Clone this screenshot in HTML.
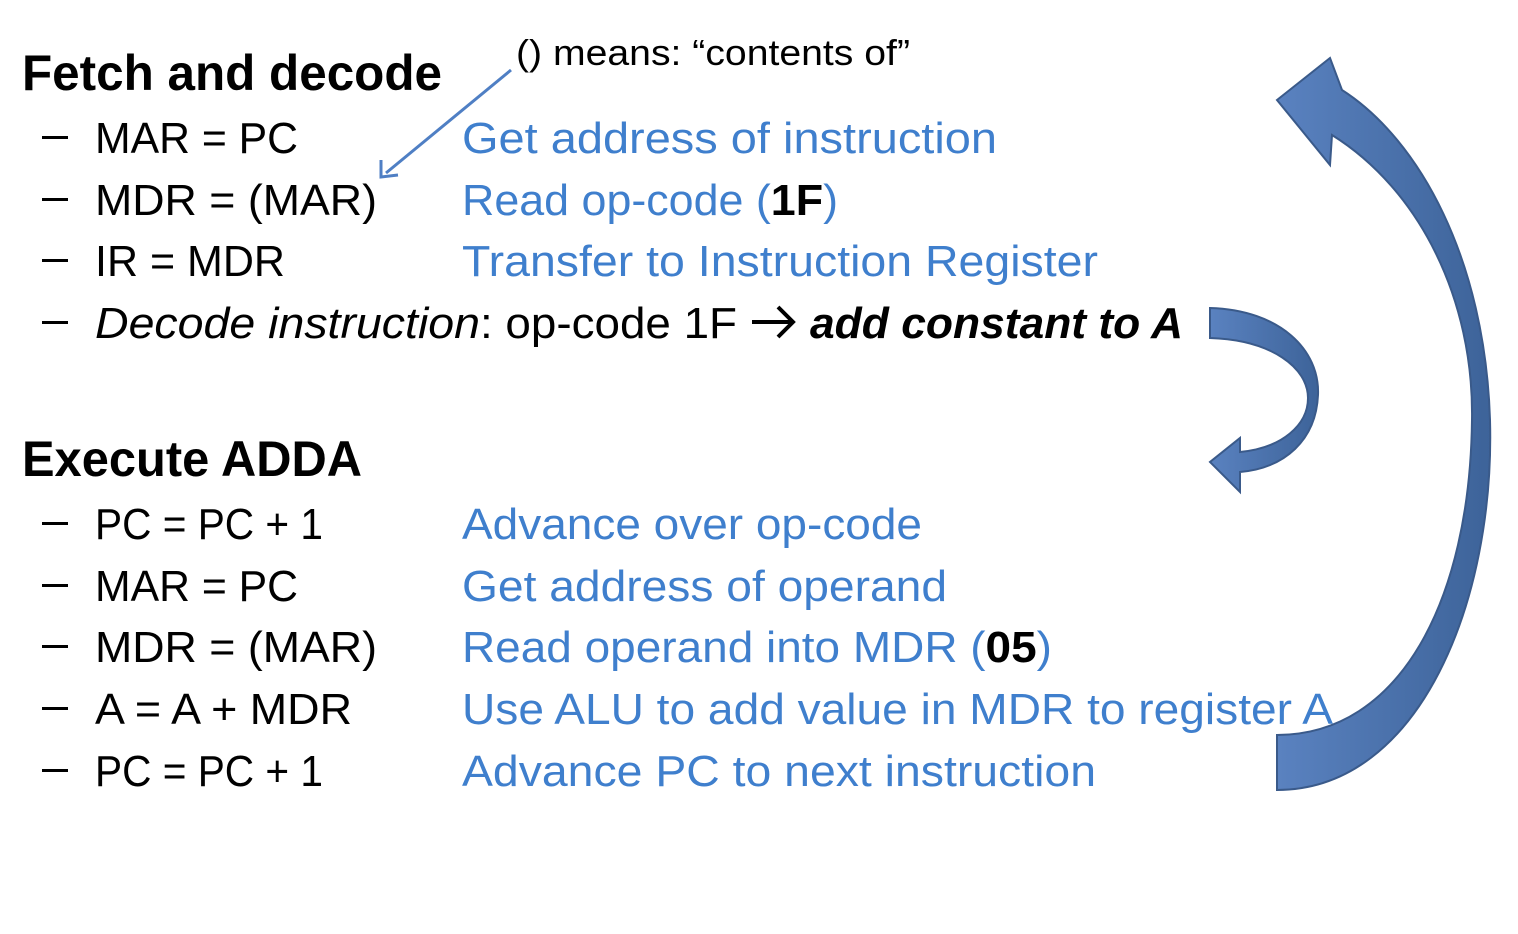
<!DOCTYPE html>
<html><head><meta charset="utf-8"><style>
html,body{margin:0;padding:0;background:#fff;}
svg{display:block;}
text{font-family:"Liberation Sans",sans-serif;}
.k{fill:#000;font-size:44px;}
.b{fill:#3f7fcd;font-size:44px;}
.h{fill:#000;font-size:50px;font-weight:bold;}
</style></head><body>
<svg width="1518" height="934" viewBox="0 0 1518 934">
<defs>
<linearGradient id="g" x1="0" y1="0" x2="1" y2="0">
<stop offset="0" stop-color="#5a82c0"/><stop offset="1" stop-color="#3d6399"/>
</linearGradient>
</defs>
<text class="h" x="22" y="90" textLength="420" lengthAdjust="spacingAndGlyphs">Fetch and decode</text>
<text x="516" y="65" style="font-size:36px" textLength="394" lengthAdjust="spacingAndGlyphs">() means: “contents of”</text>
<g stroke="#4f7fc4" stroke-width="3" fill="none">
<line x1="511" y1="70" x2="386" y2="173"/>
<polyline points="381,160 381,177 398,175"/>
</g>
<g fill="#000">
<rect x="42" y="136" width="26" height="3"/><rect x="42" y="198" width="26" height="3"/><rect x="42" y="259" width="26" height="3"/><rect x="42" y="321" width="26" height="3"/>
<rect x="42" y="522" width="26" height="3"/><rect x="42" y="584" width="26" height="3"/><rect x="42" y="645" width="26" height="3"/><rect x="42" y="707" width="26" height="3"/><rect x="42" y="769" width="26" height="3"/>
</g>
<text class="k" x="95" y="153" textLength="203" lengthAdjust="spacingAndGlyphs">MAR = PC</text>
<text class="k" x="95" y="215" textLength="282" lengthAdjust="spacingAndGlyphs">MDR = (MAR)</text>
<text class="k" x="95" y="276" textLength="190" lengthAdjust="spacingAndGlyphs">IR = MDR</text>
<text class="k" x="95" y="338" textLength="385" lengthAdjust="spacingAndGlyphs" font-style="italic">Decode instruction</text>
<text class="k" x="480" y="338" textLength="257" lengthAdjust="spacingAndGlyphs">: op-code 1F</text>
<g stroke="#000" stroke-width="4" fill="none"><line x1="752" y1="322" x2="792" y2="322"/><polyline points="778,307 793,322 778,337"/></g>
<text class="k" x="810" y="338" textLength="373" lengthAdjust="spacingAndGlyphs" font-style="italic" font-weight="bold">add constant to A</text>

<text class="b" x="462" y="153" textLength="535" lengthAdjust="spacingAndGlyphs">Get address of instruction</text>
<text class="b" x="462" y="215" textLength="376" lengthAdjust="spacingAndGlyphs">Read op-code (<tspan fill="#000" font-weight="bold">1F</tspan>)</text>
<text class="b" x="462" y="276" textLength="636" lengthAdjust="spacingAndGlyphs">Transfer to Instruction Register</text>

<text class="h" x="22" y="476" textLength="340" lengthAdjust="spacingAndGlyphs">Execute ADDA</text>
<text class="k" x="95" y="539" textLength="228" lengthAdjust="spacingAndGlyphs">PC = PC + 1</text>
<text class="k" x="95" y="601" textLength="203" lengthAdjust="spacingAndGlyphs">MAR = PC</text>
<text class="k" x="95" y="662" textLength="282" lengthAdjust="spacingAndGlyphs">MDR = (MAR)</text>
<text class="k" x="95" y="724" textLength="257" lengthAdjust="spacingAndGlyphs">A = A + MDR</text>
<text class="k" x="95" y="786" textLength="228" lengthAdjust="spacingAndGlyphs">PC = PC + 1</text>

<text class="b" x="462" y="539" textLength="460" lengthAdjust="spacingAndGlyphs">Advance over op-code</text>
<text class="b" x="462" y="601" textLength="485" lengthAdjust="spacingAndGlyphs">Get address of operand</text>
<text class="b" x="462" y="662" textLength="590" lengthAdjust="spacingAndGlyphs">Read operand into MDR (<tspan fill="#000" font-weight="bold">05</tspan>)</text>
<text class="b" x="462" y="724" textLength="871" lengthAdjust="spacingAndGlyphs">Use ALU to add value in MDR to register A</text>
<text class="b" x="462" y="786" textLength="634" lengthAdjust="spacingAndGlyphs">Advance PC to next instruction</text>

<path fill="url(#g)" stroke="#3a5a8a" stroke-width="2"
d="M1277,790 C1420,790 1495,600 1490,420 C1485,260 1420,140 1342,90 L1330,58 L1277,100 L1330,165 L1332,135 C1420,190 1474,300 1472,420 C1470,600 1400,735 1277,735 Z"/>
<path fill="url(#g)" stroke="#3a5a8a" stroke-width="2"
d="M1210,308 C1280,310 1320,350 1318,395 C1316,440 1285,468 1240,472 L1240,492 L1210,462 L1240,438 L1240,452 C1282,448 1308,425 1308,398 C1308,368 1272,340 1210,338 Z"/>
</svg>
</body></html>
